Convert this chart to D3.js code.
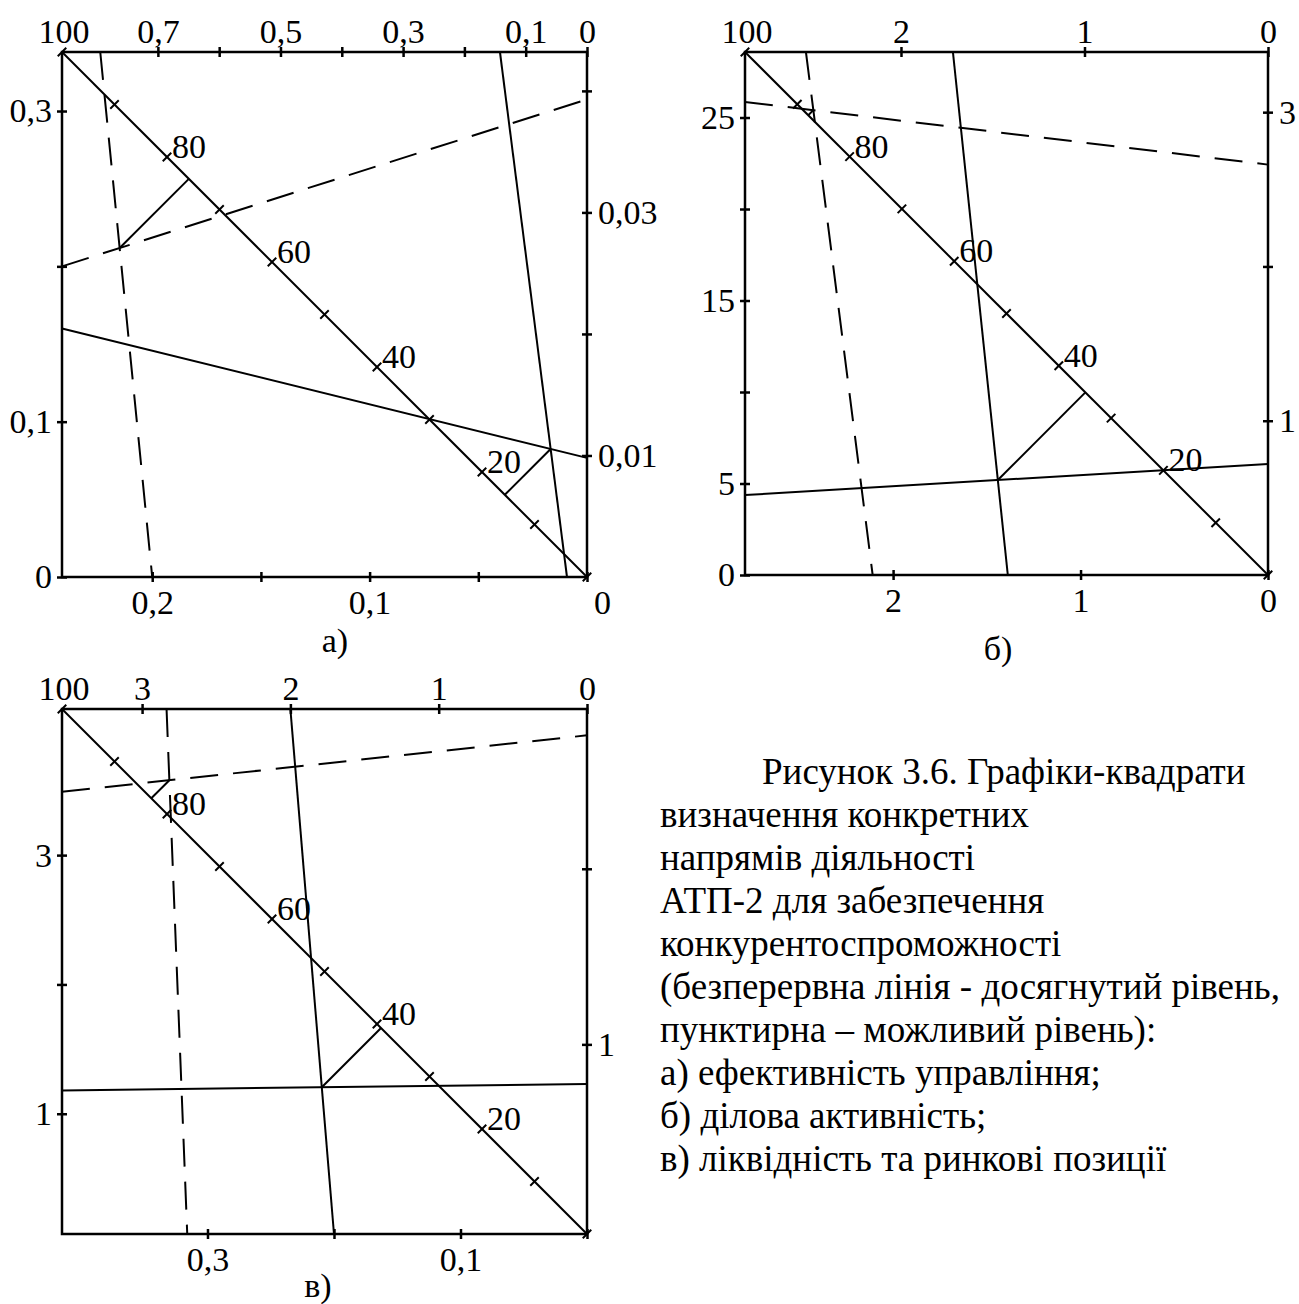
<!DOCTYPE html>
<html>
<head>
<meta charset="utf-8">
<script src="https://cdn.jsdelivr.net/npm/d3@7/dist/d3.min.js"></script>
<style>
  body { margin: 0; background: #fff; }
  svg { display: block; }
  text { font-family: "Liberation Serif", "Times New Roman", serif; fill: #000; }
</style>
</head>
<body>
<svg id="chart" width="1299" height="1304"></svg>
<script>
// diagonal scale (same in all three squares)
const diagTicks = [0, 10, 20, 30, 40, 50, 60, 70, 80, 90, 100];
const diagLabels = [100, 80, 60, 40, 20];

// square а) management efficiency
const aTopTicks = [0.7, 0.6, 0.5, 0.4, 0.3, 0.2, 0.1, 0];
const aTopLabels = [0.7, 0.5, 0.3, 0.1, 0];
const aBottomTicks = [0.2, 0.15, 0.1, 0.05, 0];
const aBottomLabels = [0.2, 0.1, 0];
const aLeftTicks = [0, 0.1, 0.2, 0.3];
const aLeftLabels = [0, 0.1, 0.3];
const aRightTicks = [0.01, 0.02, 0.03, 0.04];
const aRightLabels = [0.01, 0.03];
const aAchievedH = [0.16, 0.0098];   // left value -> right value
const aPossibleH = [0.2, 0.0393];
const aAchievedV = [0.142, 0.0092];  // top value -> bottom value
const aPossibleV = [0.794, 0.2];

// square б) business activity
const bTopTicks = [2, 1, 0];
const bTopLabels = [2, 1, 0];
const bBottomTicks = [2, 1, 0];
const bBottomLabels = [2, 1, 0];
const bLeftTicks = [0, 5, 10, 15, 20, 25];
const bLeftLabels = [0, 5, 15, 25];
const bRightTicks = [1, 2, 3];
const bRightLabels = [1, 3];
const bAchievedH = [4.37, 0.72];
const bPossibleH = [25.85, 2.66];
const bAchievedV = [1.717, 1.388];
const bPossibleV = [2.518, 2.109];

// square в) liquidity and market position
const cTopTicks = [3, 2, 1, 0];
const cTopLabels = [3, 2, 1, 0];
const cBottomTicks = [0.3, 0.2, 0.1, 0];
const cBottomLabels = [0.3, 0.1];
const cLeftTicks = [1, 2, 3];
const cLeftLabels = [1, 3];
const cRightTicks = [1, 2];
const cRightLabels = [1];
const cAchievedH = [1.18, 0.774];
const cPossibleH = [3.49, 2.76];
const cAchievedV = [2.0, 0.2];
const cPossibleV = [2.835, 0.316];

const captionLines = [
  'Рисунок 3.6. Графіки-квадрати',
  'визначення конкретних',
  'напрямів діяльності',
  'АТП-2 для забезпечення',
  'конкурентоспроможності',
  '(безперервна лінія - досягнутий рівень,',
  'пунктирна – можливий рівень):',
  'а) ефективність управління;',
  'б) ділова активність;',
  'в) ліквідність та ринкові позиції'
];

const fmt = d3.formatLocale({decimal: ',', thousands: ' ', grouping: [3], currency: ['', '']}).format('');
const FS = 34;
const CAP_FS = 37;
const TICK = 5;
const svg = d3.select('#chart');

const panels = [
  {box: [62, 52, 525], name: 'а)', nameAt: [335, 652],
   topMax: 0.8564, bottomMax: 0.2415, leftDom: [0, 0.338], rightDom: [0, 0.0432],
   topTicks: aTopTicks, topLabels: aTopLabels, bottomTicks: aBottomTicks, bottomLabels: aBottomLabels,
   leftTicks: aLeftTicks, leftLabels: aLeftLabels, rightTicks: aRightTicks, rightLabels: aRightLabels,
   achievedH: aAchievedH, possibleH: aPossibleH, achievedV: aAchievedV, possibleV: aPossibleV, zeroShift: 15},
  {box: [745, 52, 523], name: 'б)', nameAt: [998, 660],
   topMax: 2.85, bottomMax: 2.79, leftDom: [0, 28.58], rightDom: [0, 3.39],
   topTicks: bTopTicks, topLabels: bTopLabels, bottomTicks: bBottomTicks, bottomLabels: bBottomLabels,
   leftTicks: bLeftTicks, leftLabels: bLeftLabels, rightTicks: bRightTicks, rightLabels: bRightLabels,
   achievedH: bAchievedH, possibleH: bPossibleH, achievedV: bAchievedV, possibleV: bPossibleV, zeroShift: 0},
  {box: [62, 709, 525], name: 'в)', nameAt: [318, 1297],
   topMax: 3.54, bottomMax: 0.415, leftDom: [0.07, 4.13], rightDom: [-0.08, 2.91],
   topTicks: cTopTicks, topLabels: cTopLabels, bottomTicks: cBottomTicks, bottomLabels: cBottomLabels,
   leftTicks: cLeftTicks, leftLabels: cLeftLabels, rightTicks: cRightTicks, rightLabels: cRightLabels,
   achievedH: cAchievedH, possibleH: cPossibleH, achievedV: cAchievedV, possibleV: cPossibleV, zeroShift: 0}
];

function intersect(p1, p2, p3, p4) {
  const d = (p1[0] - p2[0]) * (p3[1] - p4[1]) - (p1[1] - p2[1]) * (p3[0] - p4[0]);
  const a = p1[0] * p2[1] - p1[1] * p2[0];
  const b = p3[0] * p4[1] - p3[1] * p4[0];
  return [(a * (p3[0] - p4[0]) - (p1[0] - p2[0]) * b) / d,
          (a * (p3[1] - p4[1]) - (p1[1] - p2[1]) * b) / d];
}

function foot(p, a, b) {
  const dx = b[0] - a[0], dy = b[1] - a[1];
  const t = ((p[0] - a[0]) * dx + (p[1] - a[1]) * dy) / (dx * dx + dy * dy);
  return [a[0] + t * dx, a[1] + t * dy];
}

function styleAxis(sel) {
  sel.attr('font-size', FS).attr('font-family', null);
  sel.select('.domain').remove();
  sel.selectAll('line').attr('stroke', '#000').attr('stroke-width', 2.5);
}

function labelFmt(labels) {
  return v => labels.includes(v) ? fmt(v) : '';
}

function drawPanel(p) {
  const [x0, y0, size] = p.box;
  const x1 = x0 + size, y1 = y0 + size;
  const g = svg.append('g');

  const top = d3.scaleLinear().domain([0, p.topMax]).range([x1, x0]);
  const bottom = d3.scaleLinear().domain([0, p.bottomMax]).range([x1, x0]);
  const left = d3.scaleLinear().domain(p.leftDom).range([y1, y0]);
  const right = d3.scaleLinear().domain(p.rightDom).range([y1, y0]);
  const diagX = d3.scaleLinear().domain([0, 100]).range([x1, x0]);
  const diagY = d3.scaleLinear().domain([0, 100]).range([y1, y0]);

  g.append('rect').attr('x', x0).attr('y', y0).attr('width', size).attr('height', size)
    .attr('fill', 'none').attr('stroke', '#000').attr('stroke-width', 2.5);

  g.append('g').attr('transform', `translate(0,${y0 + TICK})`)
    .call(d3.axisTop(top).tickValues(p.topTicks).tickSize(2 * TICK).tickPadding(4).tickFormat(labelFmt(p.topLabels)))
    .call(styleAxis);
  const bAx = g.append('g').attr('transform', `translate(0,${y1 - TICK})`)
    .call(d3.axisBottom(bottom).tickValues(p.bottomTicks).tickSize(2 * TICK).tickPadding(8).tickFormat(labelFmt(p.bottomLabels)))
    .call(styleAxis);
  bAx.selectAll('.tick').filter(d => d === 0).select('text').attr('x', p.zeroShift);
  g.append('g').attr('transform', `translate(${x0 + TICK},0)`)
    .call(d3.axisLeft(left).tickValues(p.leftTicks).tickSize(2 * TICK).tickPadding(5).tickFormat(labelFmt(p.leftLabels)))
    .call(styleAxis);
  g.append('g').attr('transform', `translate(${x1 - TICK},0)`)
    .call(d3.axisRight(right).tickValues(p.rightTicks).tickSize(2 * TICK).tickPadding(6).tickFormat(labelFmt(p.rightLabels)))
    .call(styleAxis);

  // diagonal 100 -> 0 with perpendicular ticks
  const A = [x0, y0], B = [x1, y1];
  const len = Math.hypot(x1 - x0, y1 - y0);
  const nx = -(y1 - y0) / len, ny = (x1 - x0) / len;
  g.append('line').attr('x1', x0).attr('y1', y0).attr('x2', x1).attr('y2', y1)
    .attr('stroke', '#000').attr('stroke-width', 2);
  g.selectAll('.dtick').data(diagTicks).join('line')
    .attr('x1', d => diagX(d) - 6 * nx).attr('y1', d => diagY(d) - 6 * ny)
    .attr('x2', d => diagX(d) + 6 * nx).attr('y2', d => diagY(d) + 6 * ny)
    .attr('stroke', '#000').attr('stroke-width', 2);
  g.selectAll('.dlab').data(diagLabels).join('text')
    .attr('font-size', FS)
    .attr('x', d => d === 100 ? diagX(d) + 2 : diagX(d) + 5)
    .attr('y', d => d === 100 ? diagY(d) - 9 : diagY(d) + 1)
    .attr('text-anchor', d => d === 100 ? 'middle' : 'start')
    .text(d => d);

  // level lines: solid = achieved, dashed = possible
  const segs = [
    {pts: [[x0, left(p.achievedH[0])], [x1, right(p.achievedH[1])]], dash: null},
    {pts: [[top(p.achievedV[0]), y0], [bottom(p.achievedV[1]), y1]], dash: null},
    {pts: [[x0, left(p.possibleH[0])], [x1, right(p.possibleH[1])]], dash: '28,15'},
    {pts: [[top(p.possibleV[0]), y0], [bottom(p.possibleV[1]), y1]], dash: '28,15'}
  ];
  g.selectAll('.lvl').data(segs).join('path')
    .attr('d', d => d3.line()(d.pts))
    .attr('fill', 'none').attr('stroke', '#000').attr('stroke-width', 2)
    .attr('stroke-dasharray', d => d.dash);

  // perpendiculars from the crossings onto the diagonal
  const cross = [intersect(...segs[0].pts, ...segs[1].pts), intersect(...segs[2].pts, ...segs[3].pts)];
  g.selectAll('.perp').data(cross).join('path')
    .attr('d', d => d3.line()([d, foot(d, A, B)]))
    .attr('stroke', '#000').attr('stroke-width', 2);

  g.append('text').attr('font-size', FS).attr('text-anchor', 'middle')
    .attr('x', p.nameAt[0]).attr('y', p.nameAt[1]).text(p.name);
}

panels.forEach(drawPanel);

// caption
const cap = svg.append('text').attr('font-size', CAP_FS);
cap.selectAll('tspan').data(captionLines).join('tspan')
  .attr('x', (d, i) => i === 0 ? 762 : 660)
  .attr('y', (d, i) => 784 + i * 43)
  .text(d => d);
</script>
</body>
</html>
